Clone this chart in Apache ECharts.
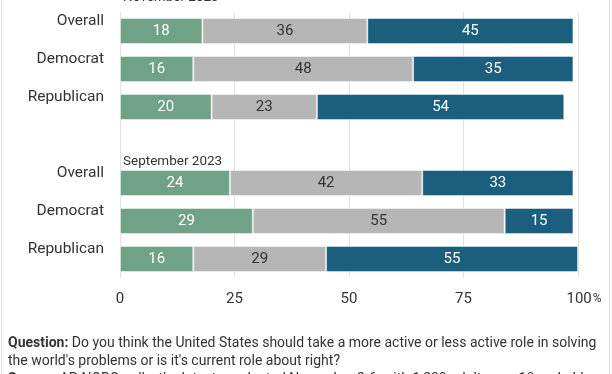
<!DOCTYPE html>
<html><head><meta charset="utf-8">
<script src="https://cdn.jsdelivr.net/npm/echarts@6/dist/echarts.min.js"></script>
<style>html,body{margin:0;padding:0;background:#fff}#c{width:612px;height:374px}</style>
</head><body><div id="c"></div>
<script>
const groupTitles = ['November 2023', 'September 2023'];
const rowLabels = ['Overall', 'Democrat', 'Republican'];
// values per group, rows in order Overall, Democrat, Republican
const moreActiveNov = [18, 16, 20];
const aboutRightNov = [36, 48, 23];
const lessActiveNov = [45, 35, 54];
const moreActiveSep = [24, 29, 16];
const aboutRightSep = [42, 55, 29];
const lessActiveSep = [33, 15, 55];
const xTicks = [0, 25, 50, 75, 100];

// category keys: November rows, a spacer row, September rows
const catKeys = rowLabels.map(r => 'n|' + r).concat(['gap|'], rowLabels.map(r => 's|' + r));
const join = (a, b) => a.concat([null], b);

const FONT = 'Roboto';
const chart = echarts.init(document.getElementById('c'), null, {renderer: 'canvas'});

function series(name, data, color, labelColor) {
  return {
    name, type: 'bar', stack: 'all', data, barWidth: 26,
    itemStyle: {color, borderColor: 'rgba(255,255,255,0.45)', borderWidth: 1},
    label: {show: true, position: 'inside', color: labelColor, fontFamily: FONT, fontSize: 15,
      formatter: p => (p.value == null ? '' : String(p.value))},
    emphasis: {disabled: true}
  };
}

chart.setOption({
  animation: false,
  backgroundColor: '#fff',
  grid: {left: 120, right: 34, top: 12, bottom: 96, containLabel: false},
  xAxis: {
    type: 'value', min: xTicks[0], max: xTicks[xTicks.length - 1], interval: 25,
    axisLine: {show: false}, axisTick: {show: false},
    splitLine: {show: true, lineStyle: {color: '#e2e2e2', width: 1}},
    axisLabel: {
      color: '#333', fontFamily: FONT, fontSize: 15, margin: 14,
      formatter: v => v === 100 ? '{n|100}{s|%}' : String(v),
      rich: {
        n: {fontFamily: FONT, fontSize: 15, color: '#333', padding: [0, 0, 0, 12]},
        s: {fontFamily: FONT, fontSize: 12, color: '#333', padding: [0, 0, 1, 1]}
      }
    }
  },
  yAxis: {
    type: 'category', inverse: true, data: catKeys,
    axisLine: {show: false}, axisTick: {show: false}, splitLine: {show: false},
    axisLabel: {
      color: '#333', fontFamily: FONT, fontSize: 15.5, margin: 16,
      verticalAlign: 'bottom', lineHeight: 19,
      formatter: v => v.split('|')[1]
    }
  },
  series: [
    series('More active', join(moreActiveNov, moreActiveSep), '#6fa287', '#fff'),
    series('About right', join(aboutRightNov, aboutRightSep), '#b6b6b6', '#333'),
    series('Less active', join(lessActiveNov, lessActiveSep), '#1b5e7d', '#fff')
  ],
  graphic: [
    {type: 'line', shape: {x1: 1.5, y1: 0, x2: 1.5, y2: 374}, style: {stroke: '#dcdcdc', lineWidth: 1}, silent: true},
    {type: 'line', shape: {x1: 609.5, y1: 0, x2: 609.5, y2: 374}, style: {stroke: '#dcdcdc', lineWidth: 1}, silent: true},
    {type: 'text', x: 123, y: 5, style: {text: groupTitles[0], fill: '#333', font: '13.5px Roboto', verticalAlign: 'bottom'}, silent: true},
    {type: 'text', x: 123, y: 169, style: {text: groupTitles[1], fill: '#333', font: '13.5px Roboto', verticalAlign: 'bottom'}, silent: true},
    {type: 'text', x: 8, y: 334, silent: true, style: {
      text: '{b|Question:} Do you think the United States should take a more active or less active role in solving\nthe world\'s problems or is it\'s current role about right?\n{b|Source:} AP-NORC polls, the latest conducted November 2-6, with 1,239 adults age 18 and older',
      fill: '#333', font: '14px Roboto', lineHeight: 18,
      rich: {b: {fontWeight: 'bold', fontFamily: FONT, fontSize: 14, fill: '#333', lineHeight: 18}}
    }}
  ]
});
</script>
</body></html>
